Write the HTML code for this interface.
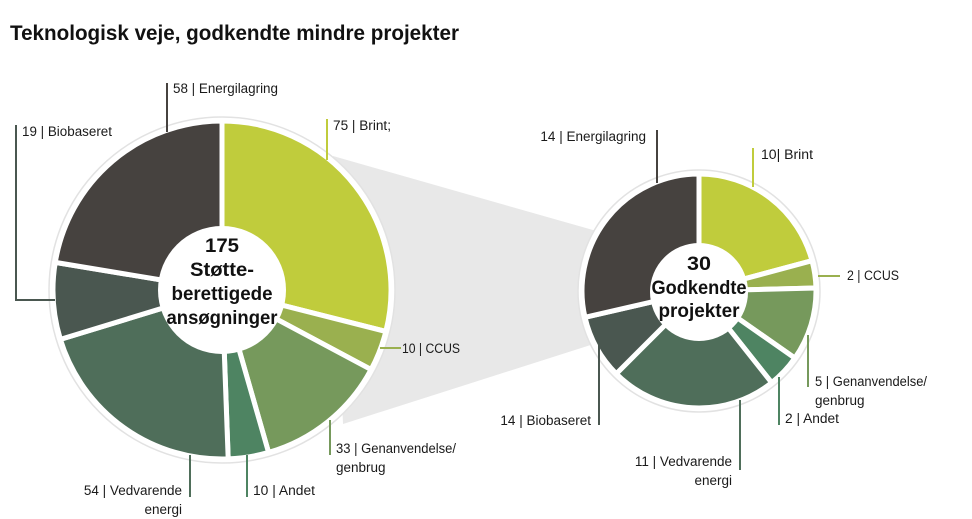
<!DOCTYPE html>
<html><head><meta charset="utf-8"><style>
html,body{margin:0;padding:0;background:#fff;}
svg{display:block;font-family:"Liberation Sans",sans-serif;}
.l{font-size:13.5px;fill:#1a1a1a;}
.c{font-size:19px;font-weight:bold;fill:#111;text-anchor:middle;}
</style></head><body>
<svg id="s" width="972" height="519" viewBox="0 0 972 519" xmlns="http://www.w3.org/2000/svg">
<text x="10" y="40" font-size="21" font-weight="bold" fill="#111" textLength="449" lengthAdjust="spacingAndGlyphs">Teknologisk veje, godkendte mindre projekter</text>
<polygon points="333,156 600,232 600,342 343,424" fill="#e8e8e8"/>
<circle cx="222" cy="290" r="173" fill="#fff" stroke="#e2e2e2" stroke-width="1.5"/>
<circle cx="699" cy="291" r="121" fill="#fff" stroke="#e2e2e2" stroke-width="1.5"/>
<g id="pies"></g>
<circle cx="222" cy="290" r="64" fill="#fff"/>
<circle cx="699" cy="292" r="49" fill="#fff"/>
<text class="c" x="222" y="252" textLength="34" lengthAdjust="spacingAndGlyphs">175</text>
<text class="c" x="222" y="276" textLength="64" lengthAdjust="spacingAndGlyphs">Støtte-</text>
<text class="c" x="222" y="300" textLength="101" lengthAdjust="spacingAndGlyphs">berettigede</text>
<text class="c" x="222" y="324" textLength="111" lengthAdjust="spacingAndGlyphs">ansøgninger</text>
<text class="c" x="699" y="270" font-size="18" textLength="24" lengthAdjust="spacingAndGlyphs">30</text>
<text class="c" x="699" y="294" font-size="18" textLength="95" lengthAdjust="spacingAndGlyphs">Godkendte</text>
<text class="c" x="699" y="317" font-size="18" textLength="81" lengthAdjust="spacingAndGlyphs">projekter</text>
<g stroke-width="2" fill="none">
<line x1="167" y1="83" x2="167" y2="132" stroke="#46423f"/>
<polyline points="16,125 16,300 55,300" stroke="#4a5750"/>
<line x1="327" y1="119" x2="327" y2="160" stroke="#c0cc3c"/>
<line x1="380" y1="348" x2="401" y2="348" stroke="#9ab04f"/>
<line x1="330" y1="420" x2="330" y2="455" stroke="#76995c"/>
<line x1="247" y1="455" x2="247" y2="497" stroke="#4e8462"/>
<line x1="190" y1="455" x2="190" y2="497" stroke="#4f6e5a"/>
<line x1="657" y1="130" x2="657" y2="183" stroke="#46423f"/>
<line x1="753" y1="148" x2="753" y2="187" stroke="#c0cc3c"/>
<line x1="818" y1="276" x2="840" y2="276" stroke="#9ab04f"/>
<line x1="808" y1="335" x2="808" y2="387" stroke="#76995c"/>
<line x1="779" y1="377" x2="779" y2="425" stroke="#4e8462"/>
<line x1="740" y1="400" x2="740" y2="470" stroke="#4f6e5a"/>
<line x1="599" y1="345" x2="599" y2="425" stroke="#4a5750"/>
</g>
<text class="l" x="173" y="93" textLength="105" lengthAdjust="spacingAndGlyphs">58 | Energilagring</text>
<text class="l" x="22" y="136" textLength="90" lengthAdjust="spacingAndGlyphs">19 | Biobaseret</text>
<text class="l" x="333" y="130" textLength="58" lengthAdjust="spacingAndGlyphs">75 | Brint;</text>
<text class="l" x="402" y="353" textLength="58" lengthAdjust="spacingAndGlyphs">10 | CCUS</text>
<text class="l" x="336" y="453" textLength="120" lengthAdjust="spacingAndGlyphs">33 | Genanvendelse/</text>
<text class="l" x="336" y="472">genbrug</text>
<text class="l" x="253" y="495" textLength="62" lengthAdjust="spacingAndGlyphs">10 | Andet</text>
<text class="l" x="182" y="495" text-anchor="end">54 | Vedvarende</text>
<text class="l" x="182" y="514" text-anchor="end">energi</text>
<text class="l" x="646" y="141" text-anchor="end">14 | Energilagring</text>
<text class="l" x="761" y="159" textLength="52" lengthAdjust="spacingAndGlyphs">10| Brint</text>
<text class="l" x="847" y="280" textLength="52" lengthAdjust="spacingAndGlyphs">2 | CCUS</text>
<text class="l" x="815" y="386" textLength="112" lengthAdjust="spacingAndGlyphs">5 | Genanvendelse/</text>
<text class="l" x="815" y="405">genbrug</text>
<text class="l" x="785" y="423" textLength="54" lengthAdjust="spacingAndGlyphs">2 | Andet</text>
<text class="l" x="732" y="466" text-anchor="end">11 | Vedvarende</text>
<text class="l" x="732" y="485" text-anchor="end">energi</text>
<text class="l" x="591" y="425" text-anchor="end">14 | Biobaseret</text>
</svg>
<script>
var cols=["#c0cc3c","#9ab04f","#76995c","#4e8462","#4f6e5a","#4a5750","#46423f"];
function pie(cx,cy,r,angs){
 var g=document.getElementById("pies"),a0=0,out="";
 for(var i=0;i<angs.length;i++){
  var a1=angs[i];
  var p=function(a){var t=(a-90)*Math.PI/180;return (cx+r*Math.cos(t)).toFixed(2)+","+(cy+r*Math.sin(t)).toFixed(2);};
  var large=(a1-a0)>180?1:0;
  out+='<path d="M'+cx+','+cy+' L'+p(a0)+' A'+r+','+r+' 0 '+large+' 1 '+p(a1)+' Z" fill="'+cols[i]+'" stroke="#fff" stroke-width="5" stroke-linejoin="round"/>';
  a0=a1;
 }
 g.innerHTML+=out;
}
pie(222,290,169,[104.2,118.1,164.0,177.9,253.0,279.4,360]);
pie(699,291,117,[75,88.5,125,141.6,225,257,360]);
</script>
</body></html>
